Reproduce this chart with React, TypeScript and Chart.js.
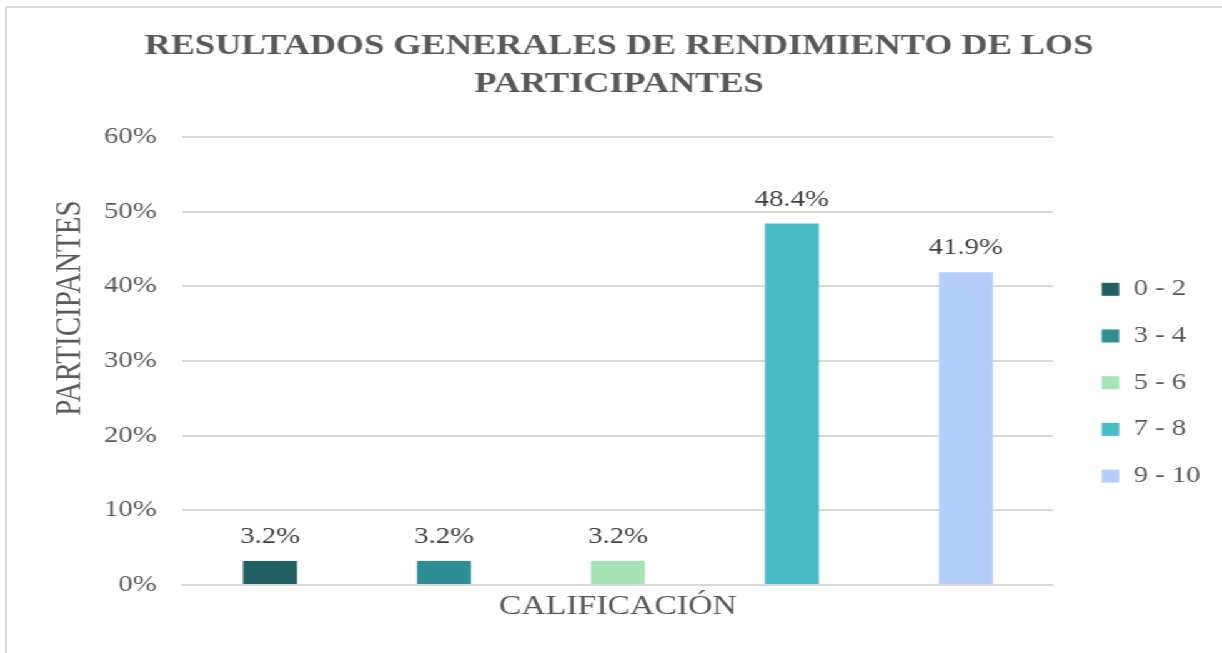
import { useEffect, useRef } from 'react';
import { Chart, registerables } from 'chart.js';

Chart.register(...registerables);

// ---- data ----
const categories = [''];
const seriesLabels = ['0 - 2', '3 - 4', '5 - 6', '7 - 8', '9 - 10'];
const seriesValues = [0.032, 0.032, 0.032, 0.484, 0.419];
const seriesColors = ['#215F62', '#2E8E96', '#A6E3B7', '#47BCC6', '#B4CDFA'];
const yMin = 0;
const yMax = 0.6;
const yStep = 0.1;
const titleLines = ['RESULTADOS GENERALES DE RENDIMIENTO DE LOS', 'PARTICIPANTES'];
const xTitle = 'CALIFICACIÓN';
const yTitle = 'PARTICIPANTES';

const FONT = "'Liberation Serif', 'Times New Roman', serif";
const NATIVE_W = 978;
const NATIVE_H = 653;
const SX = 1222 / NATIVE_W;

const overlayPlugin = {
  id: 'overlay',
  afterDatasetsDraw(chart: any) {
    const ctx = chart.ctx;
    ctx.save();
    ctx.font = `23px ${FONT}`;
    ctx.fillStyle = '#404040';
    ctx.textAlign = 'center';
    ctx.textBaseline = 'alphabetic';
    chart.data.datasets.forEach((ds: any, i: number) => {
      const meta = chart.getDatasetMeta(i);
      const el = meta.data[0];
      const v = ds.data[0];
      if (el) ctx.fillText(`${(v * 100).toFixed(1)}%`, el.x, el.y - 18);
    });
    const area = chart.chartArea;
    ctx.font = `29px ${FONT}`;
    ctx.fillStyle = '#595959';
    ctx.textBaseline = 'middle';
    ctx.translate(chart.scales.y.left + 31.2, (area.top + area.bottom) / 2 - 53);
    ctx.rotate(-Math.PI / 2);
    ctx.fillText(yTitle, 0, 0);
    ctx.restore();
  },
};

export default function App() {
  const ref = useRef<HTMLCanvasElement | null>(null);

  useEffect(() => {
    if (!ref.current) return;
    const chart = new Chart(ref.current, {
      type: 'bar',
      data: {
        labels: categories,
        datasets: seriesLabels.map((label, i) => ({
          label,
          data: [seriesValues[i]],
          backgroundColor: seriesColors[i],
          borderWidth: 0,
          categoryPercentage: 1,
          barPercentage: 0.31,
        })),
      },
      options: {
        responsive: false,
        animation: false,
        devicePixelRatio: 1,
        layout: { padding: { left: 24.8, right: 12, top: 0, bottom: 0 } },
        plugins: {
          title: {
            display: true,
            text: titleLines,
            color: '#595959',
            font: { family: FONT, size: 29, weight: 'bold', lineHeight: 1.31 },
            padding: { top: 28, bottom: 33 },
          },
          legend: {
            position: 'right',
            fullSize: false,
            maxWidth: 108,
            title: { display: true, text: '', padding: 0, font: { size: 10, lineHeight: 4.34 } },
            labels: {
              boxWidth: 14,
              boxHeight: 13,
              padding: 23.7,
              color: '#595959',
              font: { family: FONT, size: 23 },
            },
          },
          tooltip: { enabled: false },
        },
        scales: {
          x: {
            type: 'category',
            grid: { display: false, drawTicks: false },
            border: { display: true, color: '#d9d9d9', width: 2 },
            ticks: { display: false },
            title: {
              display: true,
              text: xTitle,
              color: '#595959',
              font: { family: FONT, size: 27 },
              padding: { top: 5.8, bottom: 29.8 },
            },
          },
          y: {
            min: yMin,
            max: yMax,
            grid: { color: '#d9d9d9', lineWidth: 2, drawTicks: false },
            border: { display: false },
            ticks: {
              stepSize: yStep,
              padding: 21,
              color: '#595959',
              font: { family: FONT, size: 23 },
              callback: (v: any) => `${Math.round(Number(v) * 100)}%`,
            },
            afterFit: (s: any) => {
              s.width = 121.66;
            },
          },
          yPad: {
            position: 'right',
            display: true,
            grid: { display: false, drawTicks: false },
            border: { display: false },
            ticks: { display: false },
            afterFit: (s: any) => {
              s.width = 15.3;
            },
          },
        },
      } as any,
      plugins: [overlayPlugin],
    });
    return () => chart.destroy();
  }, []);

  return (
    <>
      <div
        style={{
          position: 'fixed',
          left: 0,
          top: 0,
          width: NATIVE_W,
          height: NATIVE_H,
          transform: `scaleX(${SX})`,
          transformOrigin: '0 0',
          background: '#ffffff',
        }}
      >
        <canvas ref={ref} width={NATIVE_W} height={NATIVE_H} style={{ display: 'block' }} />
      </div>
      <div
        style={{
          position: 'fixed',
          left: 5,
          top: 6,
          width: 1217,
          height: 647,
          borderTop: '2px solid #d9d9d9',
          borderLeft: '2px solid #d9d9d9',
          boxSizing: 'border-box',
          pointerEvents: 'none',
        }}
      />
    </>
  );
}
